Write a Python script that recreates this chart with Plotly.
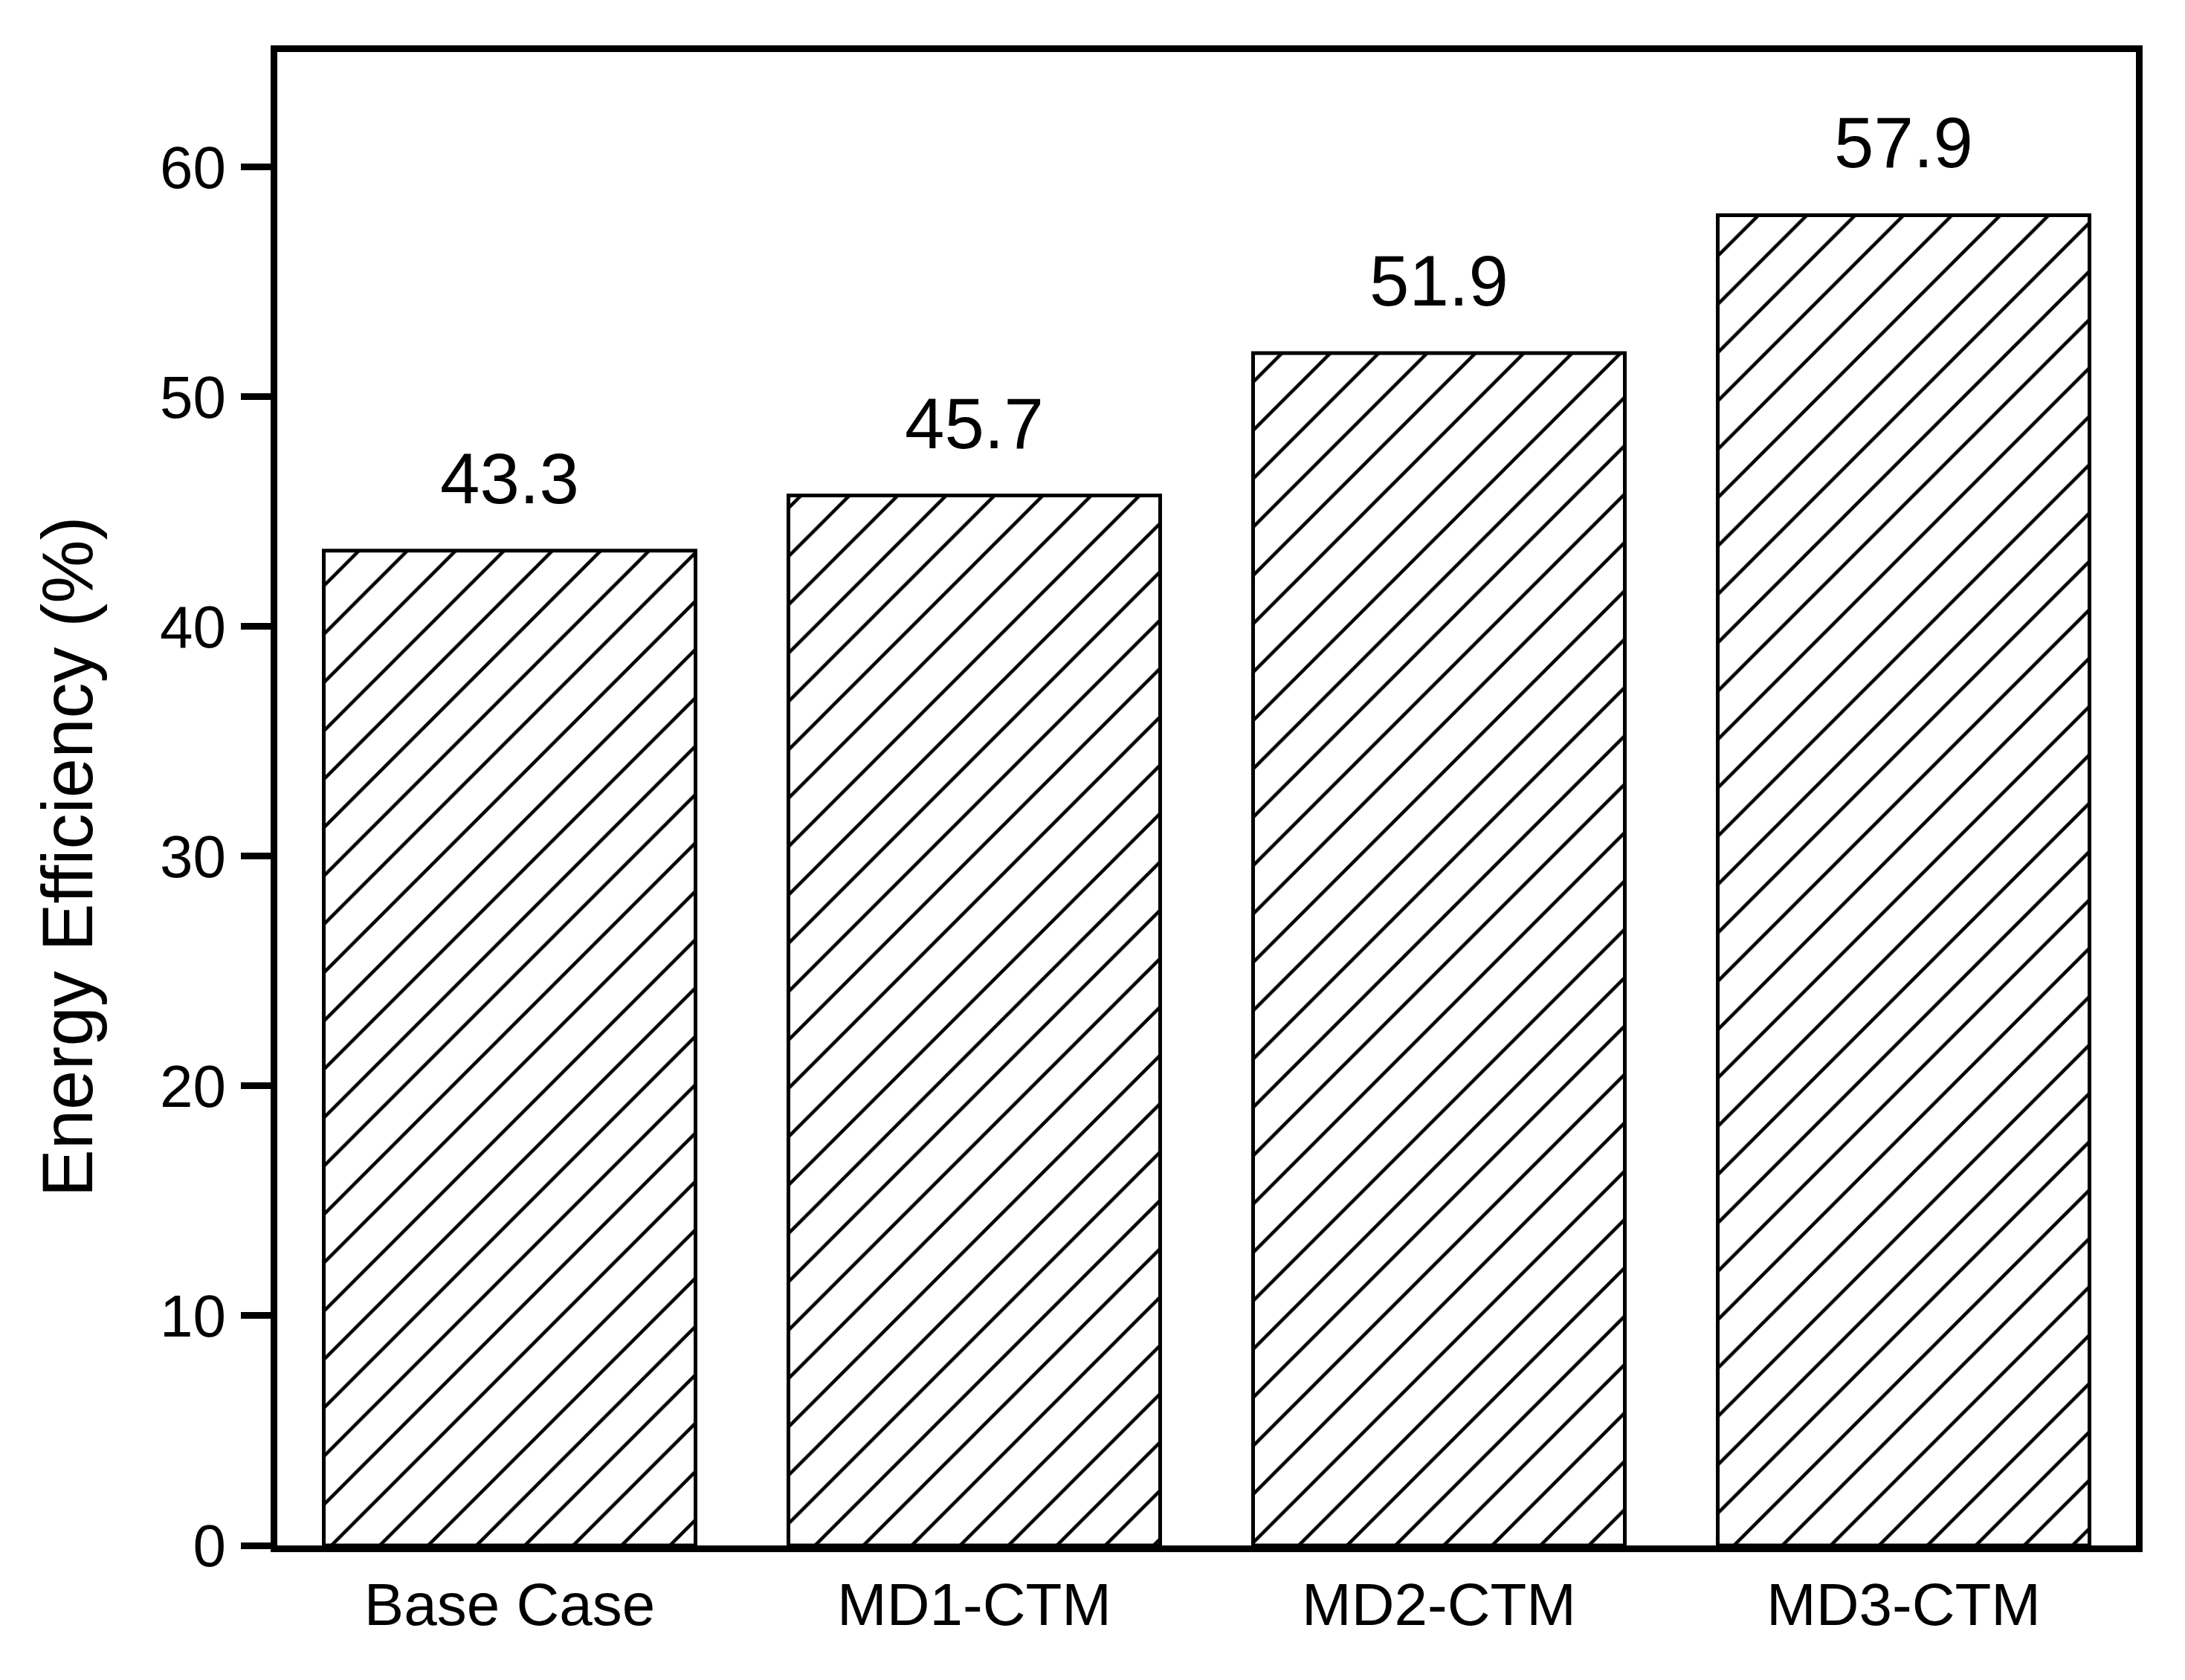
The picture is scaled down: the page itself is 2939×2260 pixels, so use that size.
import plotly.graph_objects as go

# values
cases = ['Base Case', 'MD1-CTM', 'MD2-CTM', 'MD3-CTM']
efficiency = [43.3, 45.7, 51.9, 57.9]
y_ticks = [0, 10, 20, 30, 40, 50, 60]

font_family = 'Arial, Liberation Sans, sans-serif'

fig = go.Figure()

fig.add_trace(go.Bar(
    x=cases, y=efficiency,
    marker=dict(color='white',
                line=dict(color='black', width=5),
                pattern=dict(shape='/', fgcolor='black', bgcolor='white',
                             fgopacity=1, size=46, solidity=0.1)),
    width=0.8, showlegend=False))

# value labels above the bars
for c, v in zip(cases, efficiency):
    fig.add_annotation(x=c, y=v, text=f'{v:.1f}', showarrow=False,
                       yanchor='bottom', yshift=42,
                       font=dict(family=font_family, size=96, color='black'))

# y axis title placed by hand (sits a bit below the plot middle)
fig.add_annotation(xref='paper', yref='paper', x=-0.113, y=0.461,
                   text='Energy Efficiency (%)', textangle=-90, showarrow=False,
                   xanchor='center', yanchor='middle',
                   font=dict(family=font_family, size=96, color='black'))

fig.update_layout(
    width=2939, height=2260,
    margin=dict(l=365, r=74, t=62, b=189),
    plot_bgcolor='white', paper_bgcolor='white',
    font=dict(family=font_family, color='black'),
)

fig.update_xaxes(
    range=[-0.5, 3.5],
    showline=True, linecolor='black', linewidth=9, mirror=True,
    ticks='', showgrid=False,
    tickfont=dict(size=80), ticklabelstandoff=2,
)

fig.update_yaxes(
    range=[0, 65], tickvals=y_ticks,
    showline=True, linecolor='black', linewidth=9, mirror=True,
    ticks='outside', ticklen=40, tickwidth=9, tickcolor='black',
    showgrid=False, zeroline=False,
    tickfont=dict(size=80), ticklabelstandoff=4,
)

fig.write_html('out.html')
